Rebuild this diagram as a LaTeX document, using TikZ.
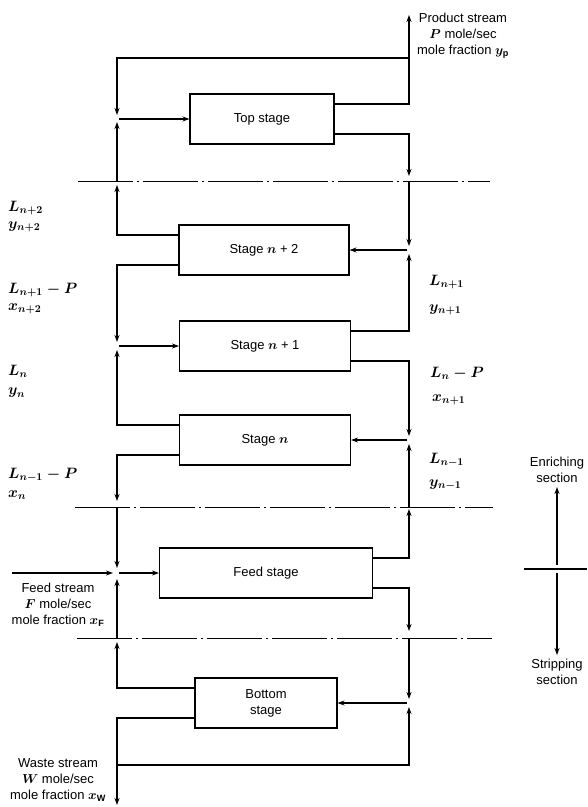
\RequirePackage{fix-cm}
\documentclass[tikz,border=0pt]{standalone}
\usepackage{fontspec}
\setmainfont{Liberation Sans}
\usepackage{tikz}
\usetikzlibrary{arrows.meta}

\begin{document}
\begin{tikzpicture}[
      x=1pt, y=-1pt,
      font=\fontsize{13}{16}\selectfont,
      stage/.style={draw=black, line width=1.1pt, minimum width=#1, minimum height=50pt, inner sep=0pt, align=center, font=\fontsize{13}{16}\selectfont\boldmath},
      arrow/.style={line width=1.1pt, ->, >={Stealth[length=7pt, width=5pt]}},
      divider/.style={line width=0.9pt, dash pattern=on 55pt off 4pt on 2pt off 4pt},
      lbl/.style={anchor=west, inner sep=0pt, font=\fontsize{15}{18}\selectfont\boldmath},
      note/.style={align=center, inner sep=0pt, font=\fontsize{13}{16}\selectfont\boldmath}
      ]
      \useasboundingbox (0,0) rectangle (588,807);

      % Stages
      \node (top) [stage=144pt] at (262,119) {Top stage};
      \node (s2) [stage=170pt] at (264,250) {Stage $n$ + 2};
      \node (s1) [stage=171pt] at (265,346) {Stage $n$ + 1};
      \node (sn) [stage=171pt] at (265,440) {Stage $n$};
      \node (feed) [stage=213pt] at (266,573) {Feed stage};
      \node (bottom) [stage=142pt] at (266,703) {Bottom\\stage};

      % Junctions and stream ends
      \coordinate (prod) at (409,15);
      \coordinate (split) at (409,58);
      \coordinate (jt) at (117,119);
      \coordinate (j2) at (409,250);
      \coordinate (j1) at (117,346);
      \coordinate (jn) at (409,440);
      \coordinate (jf) at (117,573);
      \coordinate (jb) at (409,703);
      \coordinate (fin) at (12,573);
      \coordinate (boil) at (117,765);
      \coordinate (waste) at (117,805);

      % Section lines
      \coordinate (d1a) at (78,181);
      \coordinate (d1b) at (490,181);
      \coordinate (d2a) at (75,507);
      \coordinate (d2b) at (493,507);
      \coordinate (d3a) at (77,638);
      \coordinate (d3b) at (492,638);
      \draw [divider] (d1a) -- (d1b);
      \draw [divider] (d2a) -- (d2b);
      \draw [divider] (d3a) -- (d3b);

      % Texts
      \node (prodtext) [note] at (463,36) {Product stream\\$P$ mole/sec\\mole fraction $y_\mathrm{p}$};
      \node (feedtext) [note] at (58,605) {Feed stream\\$F$ mole/sec\\mole fraction $x_\mathrm{F}$};
      \node (wastetext) [note] at (58,780) {Waste stream\\$W$ mole/sec\\mole fraction $x_\mathrm{W}$};
      \node (enrich) [note] at (557,470) {Enriching\\section};
      \node (strip) [note] at (557,672) {Stripping\\section};

      \node (Lnp2) [lbl] at (8,208) {$L_{n+2}$};
      \node (ynp2) [lbl] at (8,227) {$y_{n+2}$};
      \node (Lnp1P) [lbl] at (8,290) {$L_{n+1}-P$};
      \node (xnp2) [lbl] at (8,309) {$x_{n+2}$};
      \node (Ln) [lbl] at (8,371) {$L_n$};
      \node (yn) [lbl] at (8,393) {$y_n$};
      \node (Lnm1P) [lbl] at (8,475) {$L_{n-1}-P$};
      \node (xn) [lbl] at (8,495) {$x_n$};
      \node (Lnp1) [lbl] at (429,282) {$L_{n+1}$};
      \node (ynp1) [lbl] at (429,310) {$y_{n+1}$};
      \node (LnP) [lbl] at (430,373) {$L_n-P$};
      \node (xnp1) [lbl] at (432,400) {$x_{n+1}$};
      \node (Lnm1) [lbl] at (429,460) {$L_{n-1}$};
      \node (ynm1) [lbl] at (429,485) {$y_{n-1}$};

      % Top stage
      \draw [arrow] ([yshift=15pt]top.east) -| (prod);
      \draw [arrow, shorten >=4pt] (split) -| (jt);
      \draw [arrow, shorten <=2pt] (jt) -- (top);
      \draw [arrow, shorten >=5pt] ([yshift=-15pt]top.east) -| (j2 |- d1a);
      \draw [arrow, shorten >=3pt] (jt |- d1a) -- (jt);

      % Enriching section
      \draw [arrow, shorten >=4pt] ([yshift=15pt]s2.west) -| (jt |- d1a);
      \draw [arrow, shorten >=4pt] (j2 |- d1a) -- (j2);
      \draw [arrow, shorten <=2pt] (j2) -- (s2);
      \draw [arrow, shorten >=4pt] ([yshift=-15pt]s2.west) -| (j1);
      \draw [arrow, shorten <=2pt] (j1) -- (s1);
      \draw [arrow, shorten >=4pt] ([yshift=15pt]s1.east) -| (j2);
      \draw [arrow, shorten >=4pt] ([yshift=-15pt]s1.east) -| (jn);
      \draw [arrow, shorten <=2pt] (jn) -- (sn);
      \draw [arrow, shorten >=4pt] ([yshift=15pt]sn.west) -| (j1);
      \draw [arrow, shorten >=6pt] ([yshift=-15pt]sn.west) -| (jf |- d2a);
      \draw [arrow, shorten >=4pt] (jn |- d2a) -- (jn);

      % Feed stage
      \draw [arrow, shorten >=5pt] (jf |- d2a) -- (jf);
      \draw [arrow, shorten >=4pt] (fin) -- (jf);
      \draw [arrow, shorten <=2pt] (jf) -- (feed);
      \draw [arrow, shorten >=6pt] (jf |- d3a) -- (jf);
      \draw [arrow, shorten >=2pt] ([yshift=15pt]feed.east) -| (jn |- d2a);
      \draw [arrow, shorten >=7pt] ([yshift=-15pt]feed.east) -| (jb |- d3a);

      % Bottom stage
      \draw [arrow, shorten >=4pt] (jb |- d3a) -- (jb);
      \draw [arrow, shorten <=2pt] (jb) -- (bottom);
      \draw [arrow, shorten >=4pt] ([yshift=15pt]bottom.west) -| (jf |- d3a);
      \draw [arrow] ([yshift=-15pt]bottom.west) -| (waste);
      \draw [arrow, shorten >=4pt] (boil) -| (jb);

      % Section arrows
      \coordinate (seca) at (524,569);
      \coordinate (secb) at (587,569);
      \coordinate (sec) at (557,569);
      \draw [line width=1.1pt] (seca) -- (secb);
      \draw [arrow, shorten <=4pt, shorten >=4pt] (sec) -- (enrich);
      \draw [arrow, shorten <=4pt, shorten >=4pt] (sec) -- (strip);

    \end{tikzpicture}
\end{document}
